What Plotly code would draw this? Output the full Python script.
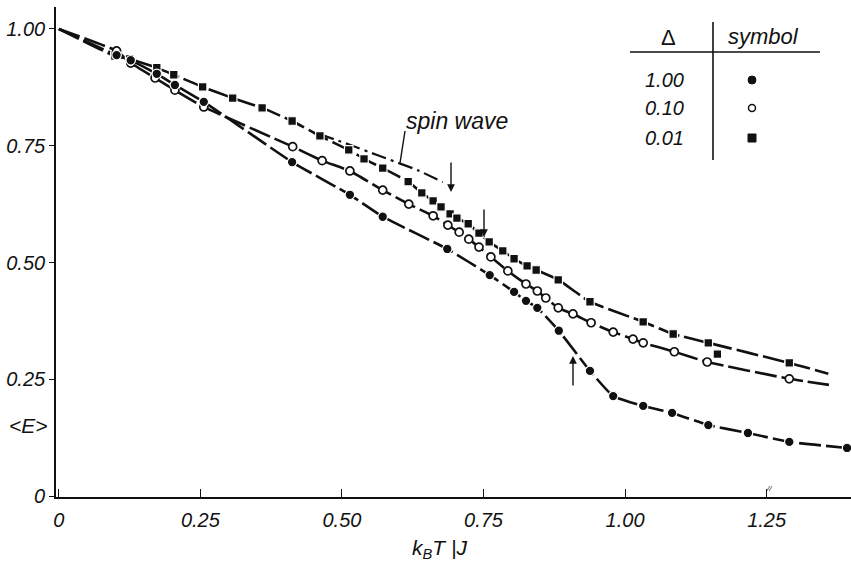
import plotly.graph_objects as go

# ---------------- data ----------------
T0, E0 = 0.0, 1.0  # common starting point of all curves

# Delta = 1.00  (filled circles)
t_d100 = [0.102, 0.127, 0.173, 0.205, 0.256, 0.412, 0.514, 0.572, 0.686, 0.761,
          0.804, 0.825, 0.845, 0.883, 0.938, 0.979, 1.032, 1.083, 1.147, 1.217,
          1.290, 1.392]
E_d100 = [0.944, 0.933, 0.904, 0.880, 0.844, 0.715, 0.645, 0.598, 0.529, 0.473,
          0.437, 0.418, 0.403, 0.354, 0.268, 0.214, 0.193, 0.178, 0.152, 0.135,
          0.116, 0.103]

# Delta = 0.10  (open circles)
t_d010 = [0.102, 0.127, 0.170, 0.205, 0.256, 0.413, 0.465, 0.514, 0.572, 0.618,
          0.661, 0.687, 0.707, 0.724, 0.742, 0.763, 0.793, 0.825, 0.845, 0.860,
          0.882, 0.908, 0.940, 0.979, 1.014, 1.032, 1.087, 1.145, 1.290]
E_d010 = [0.953, 0.927, 0.895, 0.869, 0.833, 0.748, 0.718, 0.696, 0.655, 0.625,
          0.600, 0.580, 0.565, 0.550, 0.533, 0.512, 0.482, 0.454, 0.439, 0.424,
          0.403, 0.390, 0.371, 0.351, 0.336, 0.328, 0.309, 0.287, 0.251]
d010_end = (1.360, 0.238)

# Delta = 0.01  (filled squares)
t_d001 = [0.099, 0.125, 0.173, 0.203, 0.254, 0.307, 0.359, 0.412, 0.461, 0.512,
          0.539, 0.572, 0.617, 0.641, 0.661, 0.675, 0.691, 0.703, 0.723, 0.742,
          0.760, 0.784, 0.804, 0.827, 0.843, 0.882, 0.938, 1.032, 1.085, 1.147,
          1.163, 1.290]
E_d001 = [0.942, 0.936, 0.917, 0.902, 0.876, 0.852, 0.831, 0.803, 0.771, 0.741,
          0.722, 0.702, 0.673, 0.649, 0.632, 0.619, 0.604, 0.595, 0.583, 0.563,
          0.544, 0.525, 0.508, 0.493, 0.484, 0.463, 0.416, 0.373, 0.347, 0.328,
          0.304, 0.285]
d001_outlier = 30  # index of the point lying off the drawn curve
d001_end = (1.359, 0.262)

# spin-wave approximation
t_spin = [0.460, 0.514, 0.562, 0.633, 0.678]
E_spin = [0.775, 0.752, 0.730, 0.698, 0.672]

x_ticks = [0, 0.25, 0.5, 0.75, 1.0, 1.25]
x_ticktext = ["0", "0.25", "0.50", "0.75", "1.00", "1.25"]
y_ticks = [0, 0.25, 0.5, 0.75, 1.0]
y_ticktext = ["0", "0.25", "0.50", "0.75", "1.00"]

deltas = ["1.00", "0.10", "0.01"]

# ---------------- layout helpers ----------------
W_PX, H_PX = 851, 563
ML, MT, MB, MR = 56, 7, 66, 0
PW, PH = W_PX - ML - MR, H_PX - MT - MB


def px(x):
    return (x - ML) / PW


def py(y):
    return (MT + PH - y) / PH


FONT = "Liberation Sans"
INK = "#111111"
line_dash = "22px,5px"

fig = go.Figure()

# curves
curve_d100_t = [T0] + t_d100
curve_d100_E = [E0] + E_d100
curve_d010_t = [T0] + t_d010 + [d010_end[0]]
curve_d010_E = [E0] + E_d010 + [d010_end[1]]
curve_d001_t = [T0] + [t for i, t in enumerate(t_d001) if i != d001_outlier] + [d001_end[0]]
curve_d001_E = [E0] + [e for i, e in enumerate(E_d001) if i != d001_outlier] + [d001_end[1]]

for ct, ce in [(curve_d100_t, curve_d100_E), (curve_d010_t, curve_d010_E),
               (curve_d001_t, curve_d001_E)]:
    fig.add_trace(go.Scatter(x=ct, y=ce, mode="lines",
                             line=dict(color=INK, width=2.6, dash=line_dash,
                                       shape="spline", smoothing=0.4),
                             hoverinfo="skip", showlegend=False))

# spin wave
fig.add_trace(go.Scatter(x=t_spin, y=E_spin, mode="lines",
                         line=dict(color=INK, width=2.2, dash="15px,5px,3px,5px",
                                   shape="spline", smoothing=0.4),
                         hoverinfo="skip", showlegend=False))

# markers
fig.add_trace(go.Scatter(x=t_d001, y=E_d001, mode="markers", cliponaxis=False,
                         marker=dict(symbol="square", size=8.5, color=INK,
                                     line=dict(color="white", width=1.2)),
                         hoverinfo="skip", showlegend=False))
fig.add_trace(go.Scatter(x=t_d010, y=E_d010, mode="markers", cliponaxis=False,
                         marker=dict(symbol="circle", size=8, color="white",
                                     line=dict(color=INK, width=1.7)),
                         hoverinfo="skip", showlegend=False))
fig.add_trace(go.Scatter(x=t_d100, y=E_d100, mode="markers", cliponaxis=False,
                         marker=dict(symbol="circle", size=9.5, color=INK,
                                     line=dict(color="white", width=1.2)),
                         hoverinfo="skip", showlegend=False))

shapes = []
annotations = []


def label(text, x, y, size, italic=True):
    f = dict(family=FONT, size=size, color=INK)
    if italic:
        f["style"] = "italic"
    return dict(text=text, xref="paper", yref="paper", x=px(x), y=py(y),
                xanchor="center", yanchor="middle", showarrow=False, font=f)


# legend table
shapes.append(dict(type="line", xref="paper", yref="paper",
                   x0=px(630), x1=px(820), y0=py(52), y1=py(52),
                   line=dict(color=INK, width=1.6)))
shapes.append(dict(type="line", xref="paper", yref="paper",
                   x0=px(713), x1=px(713), y0=py(22), y1=py(160),
                   line=dict(color=INK, width=1.6)))
annotations.append(label("Δ", 668, 38, 22, italic=False))
annotations.append(label("symbol", 763, 37, 22))
row_y = [80, 108, 138]
for d, yy in zip(deltas, row_y):
    annotations.append(label(d, 664, yy, 20))
# legend symbols
shapes.append(dict(type="circle", xref="paper", yref="paper",
                   x0=px(748), x1=px(756), y0=py(76), y1=py(84),
                   fillcolor=INK, line=dict(color=INK, width=1)))
shapes.append(dict(type="circle", xref="paper", yref="paper",
                   x0=px(748.5), x1=px(755.5), y0=py(104.5), y1=py(111.5),
                   fillcolor="white", line=dict(color=INK, width=1.5)))
shapes.append(dict(type="rect", xref="paper", yref="paper",
                   x0=px(748), x1=px(756), y0=py(134), y1=py(142),
                   fillcolor=INK, line=dict(color=INK, width=1)))

# spin wave label and leader
annotations.append(label("spin wave", 457, 121, 23))
shapes.append(dict(type="line", xref="paper", yref="paper",
                   x0=px(405), x1=px(400), y0=py(131), y1=py(163),
                   line=dict(color=INK, width=1.4)))

# arrows
for hx, hy, ay in [(451, 192, -31), (484, 237, -29), (573, 356, 31)]:
    annotations.append(dict(text="", xref="paper", yref="paper", x=px(hx), y=py(hy),
                            ax=0, ay=ay, showarrow=True, arrowhead=2, arrowsize=1.1,
                            arrowwidth=1.4, arrowcolor=INK))

# axis titles
annotations.append(label("&lt;E&gt;", 28, 425, 21))
annotations.append(label("k<sub>B</sub>T |J", 439, 549, 21))
# small break mark on the x axis
annotations.append(label("//", 769, 488, 8))

fig.update_layout(
    width=W_PX, height=H_PX,
    margin=dict(l=ML, r=MR, t=MT, b=MB, pad=0),
    paper_bgcolor="white", plot_bgcolor="white",
    showlegend=False, hovermode=False,
    shapes=shapes, annotations=annotations,
    xaxis=dict(range=[-0.005, 1.399], tickvals=x_ticks, ticktext=x_ticktext,
               ticks="inside", ticklen=8, tickwidth=1.3, tickcolor=INK,
               showline=True, linewidth=1.6, linecolor=INK,
               showgrid=False, zeroline=False, ticklabelstandoff=4,
               tickfont=dict(family=FONT, size=20, color=INK, style="italic")),
    yaxis=dict(range=[-0.002, 1.047], tickvals=y_ticks, ticktext=y_ticktext,
               ticks="outside", ticklen=5, tickwidth=1.3, tickcolor=INK,
               showline=True, linewidth=1.6, linecolor=INK,
               showgrid=False, zeroline=False,
               tickfont=dict(family=FONT, size=20, color=INK, style="italic")),
)

fig.write_html("out.html", config={"displayModeBar": False})
